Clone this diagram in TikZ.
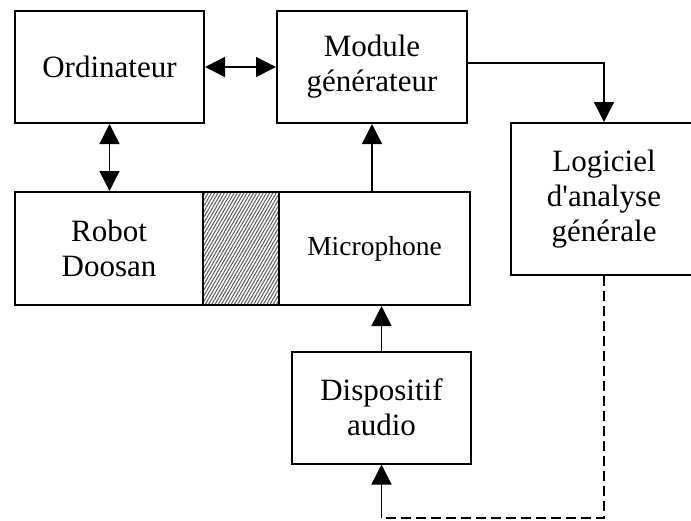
\documentclass[tikz,border=0pt]{standalone}
\usepackage{fontspec}
\setmainfont{Liberation Serif}[Ligatures=TeXOff]
\usepackage{tikz}
\usetikzlibrary{arrows.meta,positioning,calc,patterns.meta}

\begin{document}
\begin{tikzpicture}[x=1pt,y=-1pt,font=\fontsize{31}{35}\selectfont,
    bloc/.style={draw,line width=2pt,align=center,inner sep=0pt,minimum height=112pt},
    fl/.style={line width=1.4pt,-{Triangle[length=20pt,width=20pt]}},
    dfl/.style={line width=1.4pt,{Triangle[length=20pt,width=20pt]}-{Triangle[length=20pt,width=20pt]}}]
                \useasboundingbox (0,0) rectangle (691,520);
                \node[bloc,minimum width=189pt] (ordi) at (109.5,67) {Ordinateur};
                \node[bloc,minimum width=190pt] (module) at (372,67) {Module\\générateur};
                \node[bloc,minimum width=186pt,minimum height=152pt] (logiciel) at (604,199) {Logiciel\\d'analyse\\générale};
                \node[bloc,minimum width=188pt,minimum height=113pt] (robot) at (109,248.5) {Robot\\Doosan};
                \node[bloc,minimum width=76pt,minimum height=113pt,
                    pattern={Lines[angle=60,distance=2.8pt,line width=1pt]},pattern color=black!65] (hachure) at (241,248.5) {};
                \node[bloc,minimum width=191pt,minimum height=113pt,font=\fontsize{27.5}{33}\selectfont] (micro) at (374.5,248.5) {Microphone};
                \node[bloc,minimum width=179pt] (audio) at (381.5,407.5) {Dispositif\\audio};
                \coordinate (retour) at (audio.south |- 0,518);
                \draw[dfl] (ordi) -- (module);
                \draw[dfl] (ordi.south) -- (ordi.south |- robot.north);
                \draw[fl] (micro.north -| module.south) -- (module.south);
                \draw[fl] ([yshift=4pt]module.east) -| (logiciel.north);
                \draw[fl] (audio.north) -- (audio.north |- micro.south);
                \draw[line width=2pt,dash pattern=on 10pt off 5pt] (logiciel.south) |- (retour);
                \draw[fl] (retour) -- (audio.south);
            \end{tikzpicture}
\end{document}
